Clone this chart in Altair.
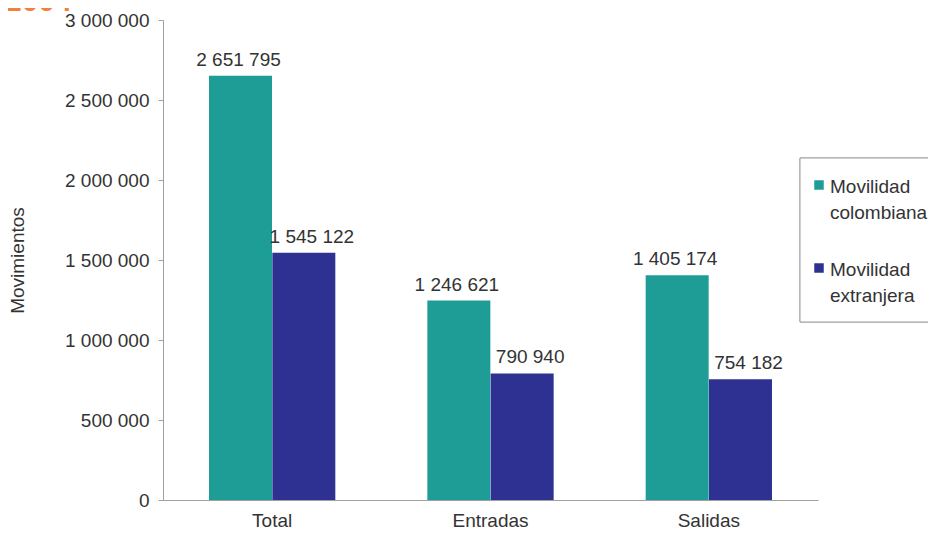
import altair as alt
import pandas as pd

categories = ["Total", "Entradas", "Salidas"]
series = ["Movilidad colombiana", "Movilidad extranjera"]
legend_text = ["Movilidad|colombiana", "Movilidad|extranjera"]
colombiana = [2651795, 1246621, 1405174]
extranjera = [1545122, 790940, 754182]
colors = ["#1E9C96", "#2E3191"]

rows = []
for i, c in enumerate(categories):
    for s, vals in zip(series, [colombiana, extranjera]):
        v = vals[i]
        rows.append({"cat": c, "serie": s, "valor": v,
                     "etiqueta": f"{v:,}".replace(",", " ")})
df = pd.DataFrame(rows)
leg = pd.DataFrame({"serie": series, "texto": legend_text})

FONT = "Liberation Sans"
TXT = "#333333"
FS = 19

x = alt.X("cat:N", sort=categories, title=None,
          scale=alt.Scale(paddingInner=0.42, paddingOuter=0.21),
          axis=alt.Axis(labelAngle=0, ticks=False, domainColor="#A0A0A0",
                        labelFont=FONT, labelFontSize=FS, labelColor=TXT,
                        labelPadding=11))
y = alt.Y("valor:Q", title="Movimientos",
          scale=alt.Scale(domain=[0, 3000000], nice=False),
          axis=alt.Axis(values=[0, 500000, 1000000, 1500000, 2000000, 2500000, 3000000],
                        labelExpr="replace(format(datum.value, ','), /,/g, ' ')",
                        grid=False, domainColor="#A0A0A0", tickColor="#A0A0A0",
                        tickSize=5, labelPadding=9,
                        labelFont=FONT, labelFontSize=FS, labelColor=TXT,
                        titleFont=FONT, titleFontSize=FS, titleColor=TXT,
                        titleFontWeight="normal", titlePadding=37))
color = alt.Color("serie:N", sort=series,
                  scale=alt.Scale(domain=series, range=colors), legend=None)

xoff = alt.XOffset("serie:N", sort=series,
                   scale=alt.Scale(paddingInner=0, paddingOuter=0))

base = alt.Chart(df)
bars = base.mark_bar(size=63).encode(x=x, y=y, color=color, xOffset=xoff)
labels_c = base.transform_filter(alt.datum.serie == series[0]).mark_text(
    baseline="alphabetic", dy=-10, dx=-2, font=FONT, fontSize=FS, color=TXT).encode(
    x=x, y=y, xOffset=xoff, text="etiqueta:N")
labels_e = base.transform_filter(alt.datum.serie == series[1]).mark_text(
    baseline="alphabetic", dy=-10, dx=8, font=FONT, fontSize=FS, color=TXT).encode(
    x=x, y=y, xOffset=xoff, text="etiqueta:N")
title = alt.Chart(pd.DataFrame({"t": ["2004"]})).mark_text(
    align="left", baseline="alphabetic", font=FONT, fontSize=30, fontWeight="bold",
    color="#F0803C"
).encode(text="t:N", x=alt.value(-158), y=alt.value(-9))

main = alt.layer(bars, labels_c, labels_e, title)

# legend (drawn as a layer)
ly = alt.Y("serie:N", sort=series, axis=None,
           scale=alt.Scale(domain=series, range=[165, 248], padding=0))
box = alt.Chart(leg).mark_rect(fill="white", stroke="#A0A0A0", strokeWidth=1).encode(
    x=alt.value(637), x2=alt.value(800), y=alt.value(138), y2=alt.value(302))
sq = alt.Chart(leg).mark_square(size=90, opacity=1).encode(
    x=alt.value(656), y=ly, color=color)
tx = alt.Chart(leg).mark_text(align="left", baseline="alphabetic", dy=8, lineBreak="|",
                              lineHeight=26, font=FONT, fontSize=FS, color=TXT).encode(
    x=alt.value(667), y=ly, text="texto:N")
legend = alt.layer(box, sq, tx)

chart = alt.layer(main, legend).resolve_scale(y="independent").properties(
    width=655, height=480, background="white",
    padding={"left": 155, "top": 12, "right": 110, "bottom": 30},
    autosize=alt.AutoSizeParams(type="none"),
).configure_view(strokeWidth=0, stroke="transparent")

chart.save("out.html", embed_options={"renderer": "svg", "actions": False})
